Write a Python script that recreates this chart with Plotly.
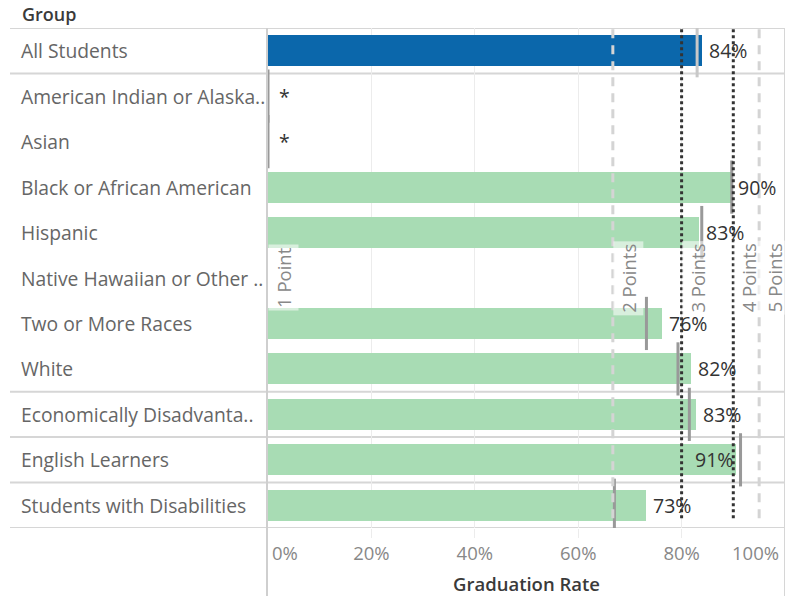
import plotly.graph_objects as go

groups = ["All Students", "American Indian or Alaska..", "Asian", "Black or African American",
          "Hispanic", "Native Hawaiian or Other ..", "Two or More Races", "White",
          "Economically Disadvanta..", "English Learners", "Students with Disabilities"]
rates = [0.839, 0.0, 0.0, 0.896, 0.834, 0.0, 0.762, 0.818, 0.828, 0.905, 0.732]
rate_labels = ["84%", "*", "*", "90%", "83%", "", "76%", "82%", "83%", "91%", "73%"]
targets = [0.830, 0.0, 0.0, 0.897, 0.839, None, 0.732, 0.793, 0.815, 0.914, 0.670]
section_breaks = [-0.5, 0.5, 7.5, 8.5, 9.5, 10.5]

ref_values = [0.0, 0.667, 0.80, 0.90, 0.95]
ref_labels = ["1 Point", "2 Points", "3 Points", "4 Points", "5 Points"]
ref_styles = ["none", "dash", "dot", "dot", "dash"]

x_ticks = [0.2, 0.4, 0.6, 0.8]
x_tick_text = ["20%", "40%", "60%", "80%"]

W, H = 799, 596
FONT = "Open Sans"
BLUE = "#0b67ab"
GREEN = "#a8dcb4"

idx = list(range(len(groups)))
fig = go.Figure()

fig.add_trace(go.Bar(
    x=rates, y=idx, orientation="h", width=0.68,
    marker=dict(color=[BLUE] + [GREEN] * (len(groups) - 1), line=dict(width=0)),
    hoverinfo="skip", showlegend=False))

tx = [t for t in targets if t is not None]
ty = [i for i, t in zip(idx, targets) if t is not None]
tc = ["#c8c8c8" if i == 0 else "#999999" for i in ty]
fig.add_trace(go.Scatter(
    x=tx, y=ty, mode="markers",
    marker=dict(symbol="line-ns", size=38, line=dict(width=3, color=tc)),
    hoverinfo="skip", showlegend=False))

shapes = []
for v, st in zip(ref_values, ref_styles):
    if st == "none":
        continue
    if st == "dash":
        shapes.append(dict(type="line", xref="x", yref="y", x0=v, x1=v, y0=-0.47, y1=10.35,
                           line=dict(color="#d4d4d4", width=3, dash="9px,7px"), layer="above"))
    else:
        shapes.append(dict(type="line", xref="x", yref="y", x0=v, x1=v, y0=-0.47, y1=10.35,
                           line=dict(color="#333333", width=3, dash="3px,3px"), layer="above"))
for b in section_breaks:
    shapes.append(dict(type="line", xref="paper", yref="y", x0=10 / W, x1=785 / W, y0=b, y1=b,
                       line=dict(color="#d6d6d6", width=2), layer="below"))
shapes.append(dict(type="line", xref="paper", yref="paper", x0=267 / W, x1=267 / W,
                   y0=0, y1=(H - 28) / H, line=dict(color="#cfcfcf", width=2), layer="above"))
shapes.append(dict(type="line", xref="x", yref="paper", x0=1.0, x1=1.0,
                   y0=0, y1=(H - 28) / H, line=dict(color="#d6d6d6", width=2), layer="above"))

ann = []
ann.append(dict(text="Group", xref="paper", yref="paper", x=20 / W, y=(H - 14) / H,
                xanchor="left", yanchor="middle", showarrow=False,
                font=dict(family=FONT, size=18, color="#3a3a3a", weight=600)))
for i, g in enumerate(groups):
    ann.append(dict(text=g, xref="paper", yref="y", x=19 / W, y=i, xanchor="left",
                    yanchor="middle", showarrow=False,
                    font=dict(family=FONT, size=19.3, color="#666666")))
for i, (r, lab) in enumerate(zip(rates, rate_labels)):
    if not lab:
        continue
    inside = lab == "91%"
    ann.append(dict(text=lab, xref="x", yref="y", x=r, y=i,
                    xanchor="right" if inside else "left",
                    xshift=-1 if inside else (9 if lab == "*" else 5),
                    yanchor="middle", showarrow=False,
                    font=dict(family=FONT, size=19.5, color="#333333")))
for v, lab in zip(ref_values, ref_labels):
    ann.append(dict(text=lab, xref="x", yref="y", x=v, y=5, xshift=15, textangle=-90,
                    xanchor="center", yanchor="middle", showarrow=False,
                    bgcolor="rgba(255,255,255,0.55)", borderpad=2,
                    font=dict(family=FONT, size=18.5, color="#888888")))
ann.append(dict(text="0%", xref="x", yref="paper", x=0, y=(H - 552) / H, xanchor="left",
                xshift=2, yanchor="middle", showarrow=False,
                font=dict(family=FONT, size=18.5, color="#888888")))
ann.append(dict(text="100%", xref="x", yref="paper", x=1.0, y=(H - 552) / H, xanchor="right",
                xshift=-4, yanchor="middle", showarrow=False,
                font=dict(family=FONT, size=18.5, color="#888888")))
ann.append(dict(text="Graduation Rate", xref="x", yref="paper", x=0.5, y=(H - 583) / H,
                xanchor="center", yanchor="middle", showarrow=False,
                font=dict(family=FONT, size=18.5, color="#3a3a3a", weight=600)))

fig.update_layout(
    width=W, height=H, margin=dict(l=0, r=0, t=0, b=0),
    plot_bgcolor="white", paper_bgcolor="white",
    bargap=0, shapes=shapes, annotations=ann,
    xaxis=dict(domain=[268 / W, 785 / W], range=[0, 1.0], tickvals=x_ticks, ticktext=x_tick_text,
               showgrid=True, gridcolor="#ececec", gridwidth=1, zeroline=False,
               ticks="outside", ticklen=9, tickcolor="#ececec", showline=False,
               tickfont=dict(family=FONT, size=18.5, color="#888888")),
    yaxis=dict(domain=[68 / H, (H - 28) / H], range=[10.5, -0.5], showticklabels=False,
               showgrid=False, zeroline=False, showline=False),
)

fig.write_html("out.html", config={"displayModeBar": False},
               post_script="document.body.style.margin='0';document.body.style.overflow='hidden';")
